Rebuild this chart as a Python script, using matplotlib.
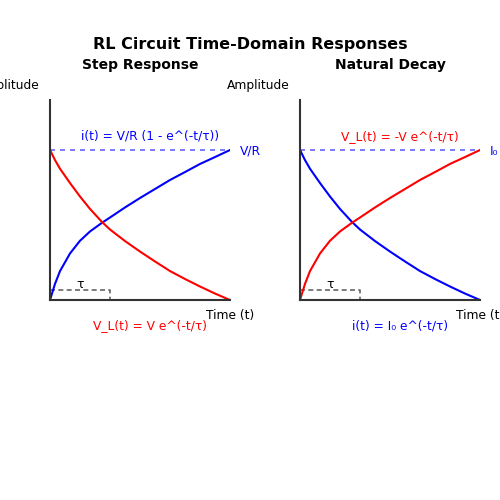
import numpy as np
import matplotlib
matplotlib.use("Agg")
import matplotlib.pyplot as plt

# curves (time in units of tau, amplitude normalised to the steady level)
curve_t = [0, 0.083, 0.167, 0.333, 0.5, 0.667, 0.867, 1.0, 1.25, 1.5, 1.75, 2.0, 2.25, 2.5, 2.75, 3.0]
rise_v = [0, 0.107, 0.193, 0.31, 0.395, 0.457, 0.515, 0.55, 0.617, 0.68, 0.74, 0.80, 0.853, 0.907, 0.953, 1.0]
decay_v = [1.0, 0.933, 0.875, 0.78, 0.69, 0.607, 0.52, 0.47, 0.393, 0.323, 0.257, 0.193, 0.14, 0.09, 0.043, 0.0]

tau = 1.0
t_end = 3.0
level = 1.0

panels = [
    {"title": "Step Response", "blue": rise_v, "red": decay_v,
     "top_text": "i(t) = V/R (1 - e^(-t/τ))", "top_color": "blue",
     "bot_text": "V_L(t) = V e^(-t/τ)", "bot_color": "red", "level_label": "V/R"},
    {"title": "Natural Decay", "blue": decay_v, "red": rise_v,
     "top_text": "V_L(t) = -V e^(-t/τ)", "top_color": "red",
     "bot_text": "i(t) = I₀ e^(-t/τ)", "bot_color": "blue", "level_label": "I₀"},
]

fig = plt.figure(figsize=(5, 5), dpi=100)
fig.text(0.5, 1 - 45 / 500, "RL Circuit Time-Domain Responses", ha="center", va="center",
         fontsize=11.5, fontweight="bold")

lefts = [0.1, 0.6]
for left, p in zip(lefts, panels):
    ax = fig.add_axes([left, 0.4, 0.36, 0.4])
    ax.set_xlim(0, t_end)
    ax.set_ylim(0, level * 4 / 3)
    for s in ["top", "right"]:
        ax.spines[s].set_visible(False)
    for s in ["left", "bottom"]:
        ax.spines[s].set_color("#333333")
        ax.spines[s].set_linewidth(1.5)
    ax.set_xticks([])
    ax.set_yticks([])
    ax.patch.set_alpha(0)

    # steady level
    ax.plot([0, t_end], [level, level], color="blue", alpha=0.6, ls=(0, (3, 3)), lw=1.2)
    # tau marker
    ax.plot([0, tau, tau], [0.0667, 0.0667, 0], color="#666666", ls=(0, (3, 2)), lw=1.2)
    ax.text(tau / 2, 0.1, "τ", ha="center", va="center", fontsize=9)

    ax.plot(curve_t, p["blue"], color="blue", lw=1.5)
    ax.plot(curve_t, p["red"], color="red", lw=1.5)

    ax.text(1.667, 1.093, p["top_text"], color=p["top_color"], ha="center", va="center",
            fontsize=8.8)
    ax.text(1.667, -0.173, p["bot_text"], color=p["bot_color"], ha="center", va="center",
            fontsize=8.8, clip_on=False)
    ax.text(t_end + 0.17, level - 0.007, p["level_label"], color="blue", ha="left",
            va="center", fontsize=8.8)

    ax.text(-10 / 180, 1 + 14 / 200, "Amplitude", transform=ax.transAxes, ha="right",
            va="center", fontsize=8.8)
    ax.text(1.0, -16 / 200, "Time (t)", transform=ax.transAxes, ha="center", va="center",
            fontsize=8.8)
    fig.text(left + 0.18, 1 - 65 / 500, p["title"], ha="center", va="center",
             fontsize=10, fontweight="bold")

fig.savefig("out.png", dpi=100)
